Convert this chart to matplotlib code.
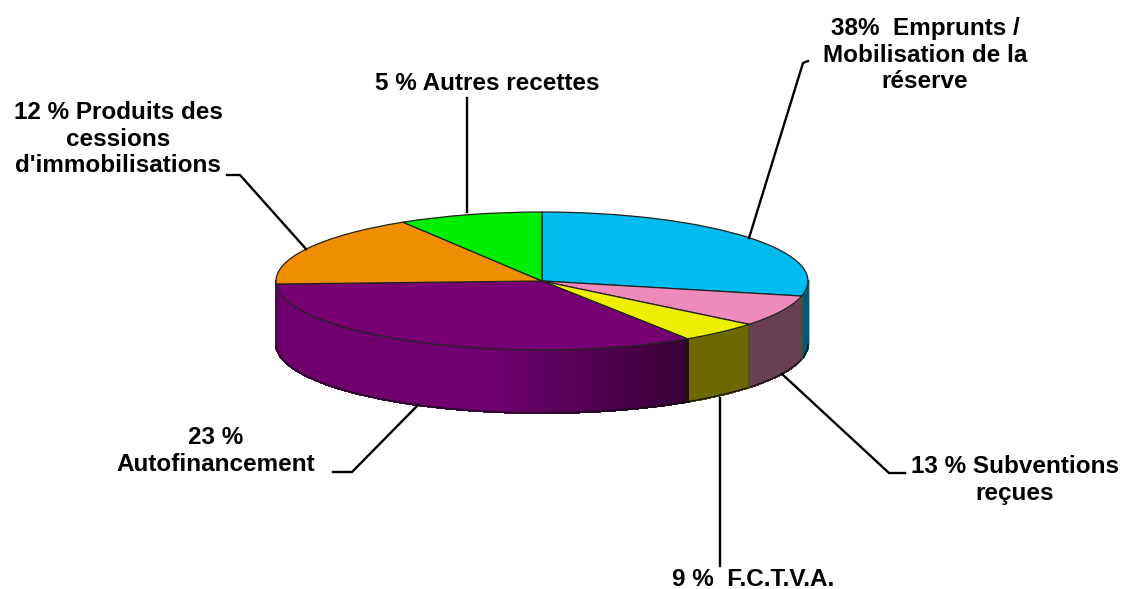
import numpy as np
import matplotlib
matplotlib.use("Agg")
import matplotlib.pyplot as plt
from matplotlib.patches import Polygon

W, H = 1123, 589
# drawn slice shares (clockwise from 12 o'clock)
slice_names = ["Emprunts", "Subventions", "FCTVA", "Autofinancement", "Cessions", "Autres"]
slice_shares = [28.5, 7.3, 5.0, 33.5, 16.95, 8.75]
top_colors = ["#00bcee", "#ee8bbc", "#eeee00", "#770072", "#ee8e00", "#00ee00"]
side_colors = ["#005a78", "#6b3f53", "#6b6900", "#700070", "#700070", "#007a00"]
labels = [
    "38%  Emprunts /\nMobilisation de la\nréserve",
    "13 % Subventions\nreçues",
    "9 %  F.C.T.V.A.",
    "23 %\nAutofinancement",
    "12 % Produits des\ncessions\nd'immobilisations",
    "5 % Autres recettes",
]
label_pos = [(925, 55), (1015, 480), (753, 579), (216, 451), (118, 139), (487, 83)]
leaders = [
    [(808, 61), (803, 63), (749, 238)],
    [(905, 473), (889, 473), (782, 374)],
    [(720, 566), (720, 398)],
    [(333, 472), (352, 472), (418, 405)],
    [(227, 175), (240, 175), (306, 249)],
    [(467, 98), (467, 212)],
]

CX, CY, RX, RY, DEPTH = 542, 281, 266, 69, 63

fig = plt.figure(figsize=(W / 100, H / 100), dpi=100, facecolor="white")
ax = fig.add_axes([0, 0, 1, 1])

# side wall, in unit-circle coordinates of the pie
d = DEPTH / RY
edges = 90 - np.cumsum([0] + slice_shares) * 3.6


def shade(color, x):
    """Darken the wall toward the right, as the reference's gradient does."""
    rgb = np.array(matplotlib.colors.to_rgb(color))
    f = 1.0 if x < -0.2 else 1.0 - 0.52 * min((x + 0.2) / 0.75, 1.0)
    return tuple(rgb * f)


for i, col in enumerate(side_colors):
    a0, a1 = edges[i + 1], edges[i]
    lo, hi = max(a0, -180), min(a1, 0)
    if lo >= hi:
        continue
    steps = np.linspace(lo, hi, max(int((hi - lo) * 2), 2))
    for s0, s1 in zip(steps[:-1], steps[1:]):
        t = np.radians([s0, s1])
        x, y = np.cos(t), np.sin(t)
        c = shade(col, x.mean()) if i == 3 else col
        ax.add_patch(Polygon([(x[0], y[0]), (x[1], y[1]), (x[1], y[1] - d), (x[0], y[0] - d)],
                             closed=True, fc=c, ec=c, lw=1.0, antialiased=False, zorder=1))

# outline of the wall
tt = np.radians(np.linspace(-180, 0, 300))
ax.plot(np.cos(tt), np.sin(tt) - d, color="#111111", lw=1.0, zorder=2)
ax.plot([-1, -1], [0, -d], color="#222222", lw=1.0, zorder=2)
ax.plot([1.004, 1.004], [0, -d], color="#bbbbbb", lw=1.6, zorder=0)
for i in range(len(slice_shares)):
    a = edges[i + 1]
    if -175 <= a <= 0:
        r = np.radians(a)
        ax.plot([np.cos(r)] * 2, [np.sin(r), np.sin(r) - d],
                color="#1c1c00" if i == 2 else "#4d4d33", lw=1.3, zorder=2)

wedges, _ = ax.pie(slice_shares, colors=top_colors, startangle=90, counterclock=False,
                   radius=1, center=(0, 0),
                   wedgeprops={"edgecolor": "#222222", "linewidth": 0.9})
for w in wedges:
    w.set_zorder(3)

ax.set_aspect("auto")
ax.set_xlim((0 - CX) / RX, (W - CX) / RX)
ax.set_ylim((CY - H) / RY, CY / RY)
ax.axis("off")

# overlay in picture pixels for leaders and labels
ov = fig.add_axes([0, 0, 1, 1], facecolor="none")
ov.set_xlim(0, W)
ov.set_ylim(H, 0)
ov.axis("off")
for pts in leaders:
    xs, ys = zip(*pts)
    ov.plot(xs, ys, color="black", lw=1.7, solid_joinstyle="miter", zorder=1)
for txt, (x, y) in zip(labels, label_pos):
    ov.text(x, y, txt, ha="center", va="center", family="Liberation Sans", weight="bold",
            fontsize=17.5, color="black", linespacing=1.2)

fig.savefig("out.png", dpi=100, facecolor="white")
